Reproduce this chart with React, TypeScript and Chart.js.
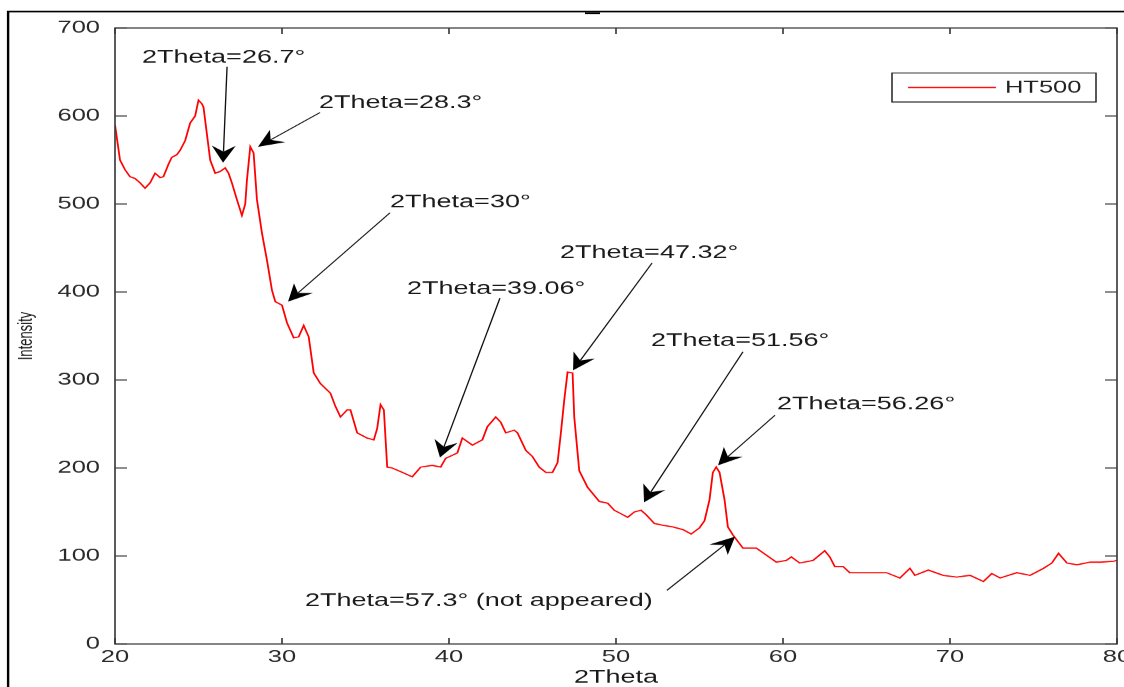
import React, { useEffect, useRef } from "react";
import { Chart, registerables } from "chart.js";

Chart.register(...registerables);

// ---- data ----
const twoTheta = [
  20.0, 20.15, 20.3, 20.6, 20.9, 21.2, 21.5, 21.8, 22.1, 22.4, 22.7, 22.9, 23.2, 23.4, 23.7, 23.9,
  24.2, 24.5, 24.8, 25.0, 25.2, 25.3, 25.5, 25.7, 26.0, 26.3, 26.6, 26.8, 27.0, 27.3, 27.6, 27.8,
  27.9, 28.1, 28.3, 28.5, 28.8, 29.1, 29.4, 29.6, 30.0, 30.3, 30.7, 31.0, 31.3, 31.6, 31.9, 32.3,
  32.9, 33.2, 33.5, 33.9, 34.1, 34.5, 35.1, 35.5, 35.7, 35.9, 36.1, 36.3, 36.6, 37.2, 37.8, 38.3,
  39.0, 39.5, 39.8, 40.5, 40.8, 41.1, 41.4, 42.0, 42.3, 42.8, 43.1, 43.4, 43.9, 44.1, 44.6, 45.0,
  45.4, 45.8, 46.2, 46.5, 46.7, 46.9, 47.1, 47.4, 47.5, 47.8, 48.3, 49.0, 49.5, 49.9, 50.3, 50.7,
  51.1, 51.5, 51.8, 52.3, 52.8, 53.4, 54.0, 54.5, 55.0, 55.3, 55.6, 55.8, 56.0, 56.2, 56.5, 56.7,
  57.0, 57.6, 58.4, 59.0, 59.6, 60.2, 60.5, 61.0, 61.8, 62.5, 62.8, 63.1, 63.6, 64.0, 65.0, 66.2,
  67.0, 67.6, 67.9, 68.7, 69.6, 70.4, 71.2, 72.0, 72.5, 73.0, 74.0, 74.8, 75.6, 76.1, 76.5, 77.0,
  77.6, 78.4, 79.0, 79.8, 80.0,
];
const intensity = [
  590, 570, 550, 539, 531, 529, 524, 518, 524, 535, 530, 531, 545, 553, 556, 561,
  572, 592, 600, 618, 614, 610, 580, 550, 535, 537, 541, 535, 524, 505, 487, 500,
  527, 565, 558, 505, 467, 436, 402, 389, 385, 365, 348, 349, 362, 349, 308, 296,
  285, 270, 258, 266, 266, 240, 234, 232, 245, 272, 266, 201, 200, 195, 190, 201,
  203, 201, 211, 217, 234, 230, 226, 232, 247, 258, 252, 240, 243, 240, 220, 213,
  201, 195, 195, 206, 240, 277, 309, 308, 258, 197, 178, 162, 160, 152, 148, 144,
  150, 152, 147, 137, 135, 133, 130, 125, 132, 140, 164, 195, 201, 195, 164, 133,
  124, 109, 109, 101, 93, 95, 99, 92, 95, 106, 99, 88, 88, 81, 81, 81,
  75, 86, 78, 84, 78, 76, 78, 71, 80, 75, 81, 78, 86, 92, 103, 92,
  90, 93, 93, 94, 95,
];
const seriesLabel = "HT500";
const xTicks = [20, 30, 40, 50, 60, 70, 80];
const yTicks = [0, 100, 200, 300, 400, 500, 600, 700];
const xTitle = "2Theta";
const yTitle = "Intensity";

// annotations (data coordinates)
const noteTexts = [
  "2Theta=26.7°",
  "2Theta=28.3°",
  "2Theta=30°",
  "2Theta=39.06°",
  "2Theta=47.32°",
  "2Theta=51.56°",
  "2Theta=56.26°",
  "2Theta=57.3° (not appeared)",
];
const noteTextX = [21.62, 32.22, 36.47, 37.49, 46.65, 52.1, 59.64, 31.38];
const noteTextY = [666, 615, 502, 403, 444, 344, 272, 49];
const noteTailX = [26.71, 32.28, 36.47, 43.05, 52.16, 57.6, 59.52, 53.05];
const noteTailY = [656, 604, 490, 393, 433, 332, 260, 61];
const noteTipX = [26.47, 28.56, 30.36, 39.46, 47.43, 51.68, 56.11, 57.13];
const noteTipY = [547, 565, 389, 212, 311, 161, 203, 122];

// ---- layout (logical px; canvas is stretched horizontally 1.5x) ----
const SX = 1.5;
const LOG_W = 750;
const LOG_H = 688;
const FONT = '"Liberation Sans", Arial, sans-serif';

const decorPlugin = {
  id: "decor",
  afterDatasetsDraw(chart: any) {
    const ctx: CanvasRenderingContext2D = chart.ctx;
    const xs = chart.scales.x;
    const ys = chart.scales.y;
    const ca = chart.chartArea;
    ctx.save();

    // outer figure border
    ctx.strokeStyle = "#000";
    ctx.lineWidth = 1.6;
    ctx.beginPath();
    ctx.moveTo(5.4, LOG_H + 5);
    ctx.lineTo(5.4, 11.5);
    ctx.lineTo(LOG_W + 5, 11.5);
    ctx.stroke();
    ctx.fillStyle = "#000";
    ctx.fillRect(390, 12.3, 10, 1.8);

    // axes frame
    ctx.strokeStyle = "#3a3a3a";
    ctx.lineWidth = 1.1;
    ctx.strokeRect(ca.left, ca.top, ca.right - ca.left, ca.bottom - ca.top);

    // inward tick marks
    ctx.beginPath();
    xTicks.forEach((v) => {
      const p = xs.getPixelForValue(v);
      ctx.moveTo(p, ca.bottom);
      ctx.lineTo(p, ca.bottom - 6);
      ctx.moveTo(p, ca.top);
      ctx.lineTo(p, ca.top + 6);
    });
    yTicks.forEach((v) => {
      const p = ys.getPixelForValue(v);
      ctx.moveTo(ca.left, p);
      ctx.lineTo(ca.left + 8, p);
      ctx.moveTo(ca.right, p);
      ctx.lineTo(ca.right - 8, p);
    });
    ctx.stroke();

    // annotations
    ctx.font = `18px ${FONT}`;
    ctx.textBaseline = "middle";
    ctx.textAlign = "left";
    noteTexts.forEach((t, i) => {
      ctx.fillStyle = "#1a1a1a";
      ctx.fillText(t, xs.getPixelForValue(noteTextX[i]), ys.getPixelForValue(noteTextY[i]));
      const x0 = xs.getPixelForValue(noteTailX[i]);
      const y0 = ys.getPixelForValue(noteTailY[i]);
      const x1 = xs.getPixelForValue(noteTipX[i]);
      const y1 = ys.getPixelForValue(noteTipY[i]);
      const ang = Math.atan2(y1 - y0, x1 - x0);
      const L = 17;
      const hw = 8;
      const notch = 11;
      const ux = Math.cos(ang);
      const uy = Math.sin(ang);
      const nx = -uy;
      const ny = ux;
      ctx.strokeStyle = "#111";
      ctx.lineWidth = 0.9;
      ctx.beginPath();
      ctx.moveTo(x0, y0);
      ctx.lineTo(x1 - ux * notch, y1 - uy * notch);
      ctx.stroke();
      ctx.fillStyle = "#000";
      ctx.beginPath();
      ctx.moveTo(x1, y1);
      ctx.lineTo(x1 - ux * L + nx * hw, y1 - uy * L + ny * hw);
      ctx.lineTo(x1 - ux * notch, y1 - uy * notch);
      ctx.lineTo(x1 - ux * L - nx * hw, y1 - uy * L - ny * hw);
      ctx.closePath();
      ctx.fill();
    });

    // legend box
    const bx0 = ca.right - 150;
    const bx1 = ca.right - 14;
    const by0 = ca.top + 45;
    const by1 = ca.top + 74;
    ctx.fillStyle = "#fff";
    ctx.fillRect(bx0, by0, bx1 - bx0, by1 - by0);
    ctx.strokeStyle = "#222";
    ctx.lineWidth = 1;
    ctx.strokeRect(bx0, by0, bx1 - bx0, by1 - by0);
    const ly = (by0 + by1) / 2;
    const ds = chart.data.datasets[0];
    ctx.strokeStyle = ds.borderColor;
    ctx.lineWidth = 1.2;
    ctx.beginPath();
    ctx.moveTo(bx0 + 10.7, ly);
    ctx.lineTo(bx0 + 69.3, ly);
    ctx.stroke();
    ctx.fillStyle = "#222";
    ctx.font = `17px ${FONT}`;
    ctx.fillText(ds.label, bx0 + 75.3, ly + 0.5);

    ctx.restore();
  },
};

export default function App() {
  const ref = useRef<HTMLCanvasElement>(null);
  useEffect(() => {
    const canvas = ref.current;
    if (!canvas) return;
    const points = twoTheta.map((x, i) => ({ x, y: intensity[i] }));
    const chart = new Chart(canvas, {
      type: "line",
      data: {
        datasets: [
          {
            label: seriesLabel,
            data: points,
            borderColor: "#ff0000",
            borderWidth: 1.2,
            pointRadius: 0,
            tension: 0,
            fill: false,
          },
        ],
      },
      options: {
        responsive: false,
        devicePixelRatio: SX,
        animation: false,
        events: [],
        layout: { padding: { left: 0, right: LOG_W - 1117 / SX, top: 28, bottom: 0 } },
        plugins: { legend: { display: false }, tooltip: { enabled: false }, title: { display: false } },
        scales: {
          x: {
            type: "linear",
            min: 20,
            max: 80,
            grid: { display: false, drawTicks: false },
            border: { display: false },
            afterBuildTicks: (s: any) => {
              s.ticks = xTicks.map((v) => ({ value: v }));
            },
            afterFit: (s: any) => {
              s.height = LOG_H - 644;
              s.paddingLeft = 0;
              s.paddingRight = 0;
            },
            ticks: {
              autoSkip: false,
              maxRotation: 0,
              padding: 3,
              color: "#2a2a2a",
              font: { family: FONT, size: 17 },
            },
            title: {
              display: true,
              text: xTitle,
              color: "#1a1a1a",
              font: { family: FONT, size: 18, lineHeight: 1 },
              padding: { top: 0, bottom: 1 },
            },
          },
          y: {
            type: "linear",
            min: 0,
            max: 700,
            grid: { display: false, drawTicks: false },
            border: { display: false },
            afterBuildTicks: (s: any) => {
              s.ticks = yTicks.map((v) => ({ value: v }));
            },
            afterFit: (s: any) => {
              s.width = 115 / SX;
              s.paddingTop = 0;
              s.paddingBottom = 0;
            },
            ticks: {
              autoSkip: false,
              padding: 10,
              color: "#2a2a2a",
              font: { family: FONT, size: 17 },
            },
            title: {
              display: true,
              text: yTitle,
              color: "#1a1a1a",
              font: { family: FONT, size: 13, lineHeight: 1.2 },
              padding: { top: 10, bottom: 0 },
            },
          },
        },
      },
      plugins: [decorPlugin],
    });
    return () => chart.destroy();
  }, []);

  return (
    <div
      style={{
        position: "fixed",
        left: 0,
        top: 0,
        width: 1124,
        height: 687,
        overflow: "hidden",
        background: "#fff",
      }}
    >
      <canvas
        ref={ref}
        width={LOG_W}
        height={LOG_H}
        style={{ display: "block", width: `${LOG_W * SX}px`, height: `${LOG_H}px` }}
      />
    </div>
  );
}
